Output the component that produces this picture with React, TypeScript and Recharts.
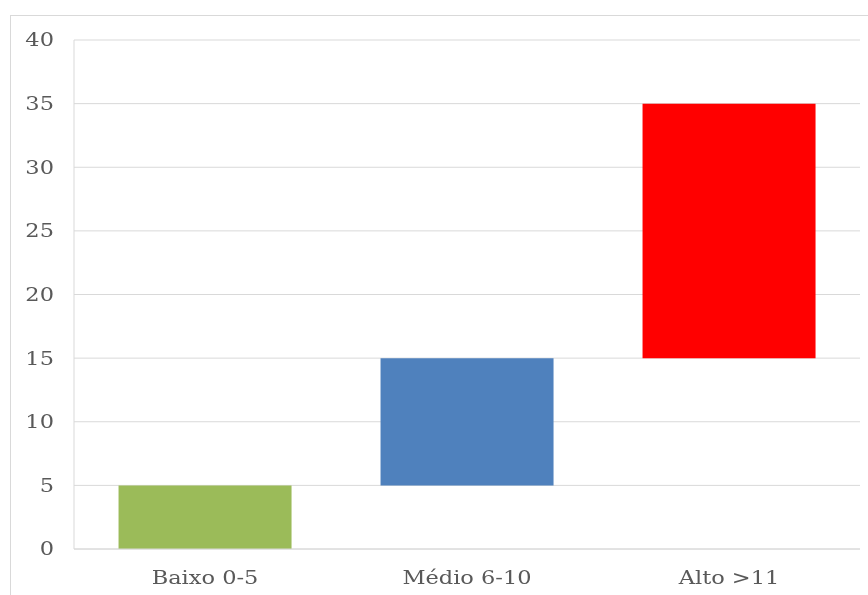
import { BarChart, Bar, XAxis, YAxis, CartesianGrid, Cell } from 'recharts';

const categories = ['Baixo 0-5', 'Médio 6-10', 'Alto >11'];
const lowValues = [0, 5, 15];
const highValues = [5, 15, 35];
const barColors = ['#9bbb59', '#4f81bd', '#ff0000'];
const yTicks = [0, 5, 10, 15, 20, 25, 30, 35, 40];

const data = categories.map((name, i) => ({
  name,
  range: [lowValues[i], highValues[i]],
}));

// the reference text is wide, so stretch it a little sideways
function WideTick(props: any) {
  const { x, y, payload, textAnchor, verticalAnchor } = props;
  const dy = verticalAnchor === 'start' ? '0.71em' : '0.355em';
  return (
    <g transform={`translate(${x},${y}) scale(1.25,1)`}>
      <text
        x={0}
        y={0}
        dy={dy}
        textAnchor={textAnchor}
        fill="#595959"
        fontSize={18}
        fontFamily='"DejaVu Serif", serif'
      >
        {payload.value}
      </text>
    </g>
  );
}

export default function App() {
  return (
    <div>
      <div
        style={{
          position: 'fixed',
          left: 10,
          top: 15,
          width: 900,
          height: 620,
          border: '1px solid #d9d9d9',
          boxSizing: 'border-box',
        }}
      />
      <div style={{ position: 'fixed', left: 0, top: 0 }}>
        <BarChart
          width={868}
          height={595}
          data={data}
          margin={{ top: 40, right: 8, bottom: 16, left: 0 }}
          barCategoryGap="17%"
        >
          <CartesianGrid vertical={false} stroke="#d9d9d9" />
          <XAxis
            dataKey="name"
            stroke="#d9d9d9"
            tickLine={false}
            tick={<WideTick />}
            tickMargin={16}
          />
          <YAxis
            width={74}
            domain={[0, 40]}
            ticks={yTicks}
            stroke="#d9d9d9"
            tickLine={false}
            tick={<WideTick />}
            tickMargin={14}
            interval={0}
          />
          <Bar dataKey="range" isAnimationActive={false}>
            {data.map((d, i) => (
              <Cell key={d.name} fill={barColors[i]} />
            ))}
          </Bar>
        </BarChart>
      </div>
    </div>
  );
}
